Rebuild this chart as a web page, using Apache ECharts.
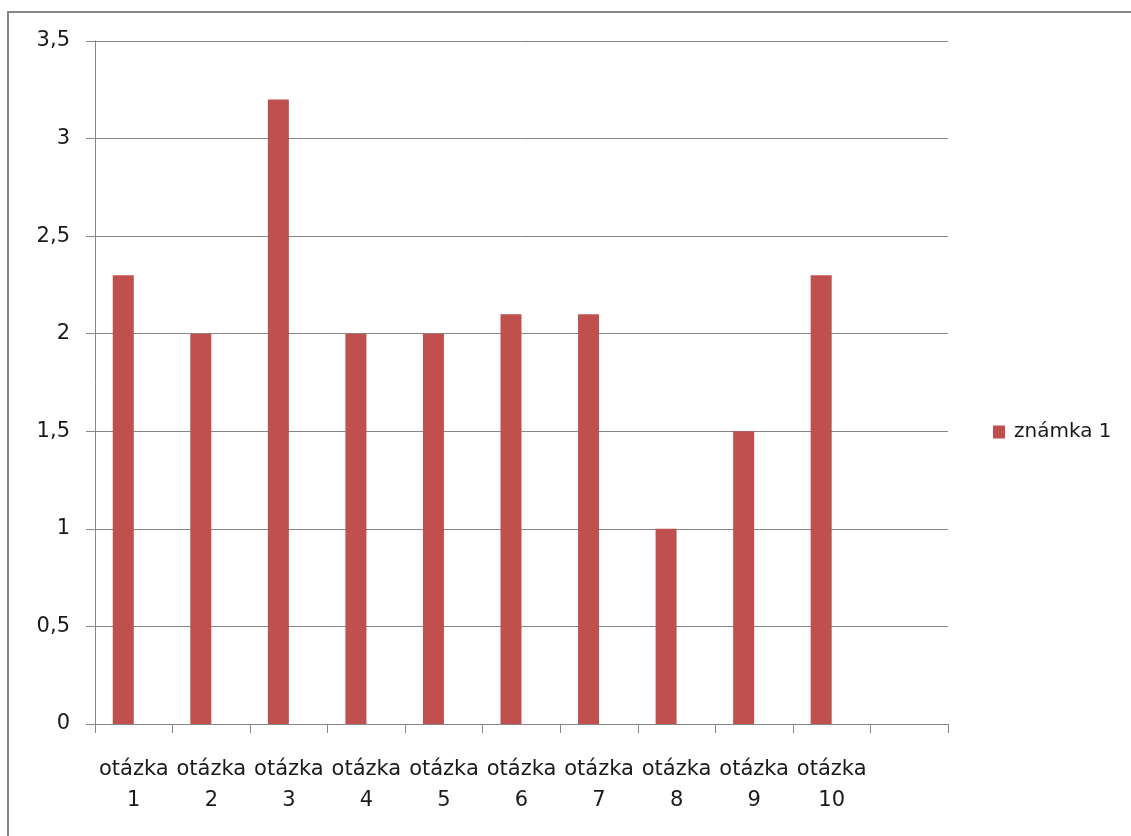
<!DOCTYPE html>
<html>
<head>
<meta charset="utf-8">
<title>známka 1</title>
<script src="https://cdn.jsdelivr.net/npm/echarts@6/dist/echarts.min.js"></script>
<style>
  html, body { margin: 0; padding: 0; background: #fff; }
  #chart { width: 1131px; height: 836px; }
</style>
</head>
<body>
<div id="chart"></div>
<script>
  'use strict'

  // otázky (poslední kategorie je prázdná, jako v originálu)
  var categories = ['otázka\n1', 'otázka\n2', 'otázka\n3', 'otázka\n4', 'otázka\n5',
    'otázka\n6', 'otázka\n7', 'otázka\n8', 'otázka\n9', 'otázka\n10', '']
  var seriesName = 'známka 1'
  var values = [2.3, 2.0, 3.2, 2.0, 2.0, 2.1, 2.1, 1.0, 1.5, 2.3, null]
  var yTicks = { min: 0, max: 3.5, interval: 0.5 }

  var gray = '#868686'
  var textColor = '#1a1a1a'
  var font = 'DejaVu Sans'

  var myChart = echarts.init(document.getElementById('chart'))

  myChart.setOption({
    animation: false,
    textStyle: { fontFamily: font },
    graphic: [{
      type: 'rect',
      shape: { x: 8, y: 12, width: 1200, height: 900 },
      style: { fill: 'none', stroke: gray, lineWidth: 2 },
      silent: true
    }],
    legend: {
      data: [seriesName],
      left: 988,
      top: 417,
      icon: 'rect',
      itemWidth: 12,
      itemHeight: 13,
      textStyle: { fontSize: 20, color: textColor, fontFamily: font, padding: [0, 0, 0, 4] }
    },
    grid: { left: 95, right: 183, top: 41, bottom: 112, containLabel: false },
    xAxis: {
      type: 'category',
      data: categories,
      axisLine: { lineStyle: { color: gray, width: 1 } },
      axisTick: { show: true, length: 9, lineStyle: { color: gray } },
      axisLabel: {
        interval: 0,
        margin: 30,
        fontSize: 21,
        lineHeight: 31,
        color: textColor,
        fontFamily: font
      }
    },
    yAxis: {
      type: 'value',
      min: yTicks.min,
      max: yTicks.max,
      interval: yTicks.interval,
      axisLine: { show: true, lineStyle: { color: gray, width: 1 } },
      axisTick: { show: true, length: 9, lineStyle: { color: gray } },
      splitLine: { show: true, lineStyle: { color: gray, width: 1 } },
      axisLabel: {
        margin: 25,
        fontSize: 21,
        color: textColor,
        fontFamily: font,
        formatter: function (v) { return String(v).replace('.', ',') }
      }
    },
    series: [{
      name: seriesName,
      type: 'bar',
      data: values,
      barWidth: 21,
      barGap: '0%',
      itemStyle: { color: '#C0504D' }
    }, {
      // prázdná druhá řada - posouvá sloupce doleva jako v Excelu
      name: '_',
      type: 'bar',
      data: [],
      barWidth: 21,
      barGap: '0%'
    }]
  })
</script>
</body>
</html>
